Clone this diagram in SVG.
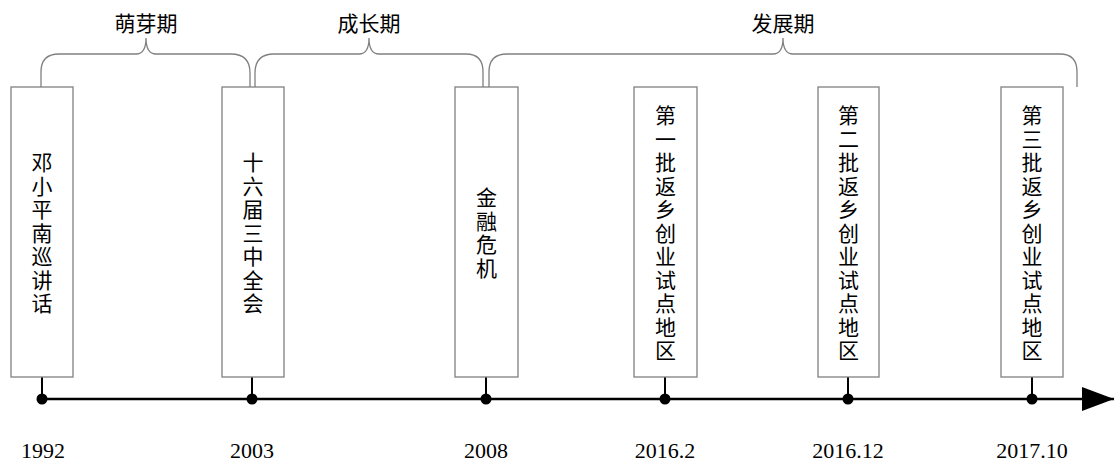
<svg xmlns="http://www.w3.org/2000/svg" width="1115" height="462" viewBox="0 0 1115 462">
<style>
.box{fill:#fff;stroke:#808080;stroke-width:1.3}
.brace{fill:none;stroke:#808080;stroke-width:1.3}
.vt{font-family:"Noto Sans CJK SC",sans-serif;font-size:21px;fill:#000;text-anchor:middle}
.per{font-family:"Noto Sans CJK SC",sans-serif;font-size:21px;fill:#000;text-anchor:middle}
.yr{font-family:"Liberation Serif",serif;font-size:22px;fill:#000;text-anchor:middle}
.axis{stroke:#000;stroke-width:2.5;fill:none}
.stem{stroke:#000;stroke-width:2}
.dot{fill:#000}
</style>
<defs>
<marker id="arr" markerUnits="userSpaceOnUse" markerWidth="34" markerHeight="26" refX="32" refY="12" orient="auto">
<path d="M0,0 L32,12 L0,24 Z" fill="#000"/>
</marker>
</defs>
<g id="periods">
<g id="p1"><path class="brace" d="M41,87 V72 Q41,54 59,54 H136 Q146,54 146,38 Q146,54 156,54 H231 Q250,54 250,73 V87"/><text class="per" x="146" y="31">萌芽期</text></g>
<g id="p2"><path class="brace" d="M255,87 V73 Q255,54 274,54 H359 Q369,54 369,38 Q369,54 379,54 H466 Q483,54 483,72 V87"/><text class="per" x="369" y="31">成长期</text></g>
<g id="p3"><path class="brace" d="M489,87 V72 Q489,54 507,54 H773 Q783,54 783,38 Q783,54 793,54 H1060 Q1077,54 1077,72 V87"/><text class="per" x="783" y="31">发展期</text></g>
</g>
<g id="connectors">
<line class="axis" x1="42" y1="399" x2="1114" y2="399" marker-end="url(#arr)"/>
<line class="stem" x1="42" y1="377" x2="42" y2="399"/>
<line class="stem" x1="252" y1="377" x2="252" y2="399"/>
<line class="stem" x1="486" y1="377" x2="486" y2="399"/>
<line class="stem" x1="665" y1="377" x2="665" y2="399"/>
<line class="stem" x1="848" y1="377" x2="848" y2="399"/>
<line class="stem" x1="1032" y1="377" x2="1032" y2="399"/>
<circle class="dot" cx="42" cy="399" r="5.5"/>
<circle class="dot" cx="252" cy="399" r="5.5"/>
<circle class="dot" cx="486" cy="399" r="5.5"/>
<circle class="dot" cx="665" cy="399" r="5.5"/>
<circle class="dot" cx="848" cy="399" r="5.5"/>
<circle class="dot" cx="1032" cy="399" r="5.5"/>
</g>
<g id="n1992">
<rect class="box" x="11" y="87" width="62" height="290"/>
<text class="vt" x="42"><tspan x="42" y="170">邓</tspan><tspan x="42" dy="23.5">小</tspan><tspan x="42" dy="23.5">平</tspan><tspan x="42" dy="23.5">南</tspan><tspan x="42" dy="23.5">巡</tspan><tspan x="42" dy="23.5">讲</tspan><tspan x="42" dy="23.5">话</tspan></text>
<text class="yr" x="43" y="458">1992</text>
</g>
<g id="n2003">
<rect class="box" x="222" y="87" width="62" height="290"/>
<text class="vt" x="253"><tspan x="253" y="170">十</tspan><tspan x="253" dy="23.5">六</tspan><tspan x="253" dy="23.5">届</tspan><tspan x="253" dy="23.5">三</tspan><tspan x="253" dy="23.5">中</tspan><tspan x="253" dy="23.5">全</tspan><tspan x="253" dy="23.5">会</tspan></text>
<text class="yr" x="252" y="458">2003</text>
</g>
<g id="n2008">
<rect class="box" x="455" y="87" width="63" height="290"/>
<text class="vt" x="486.5"><tspan x="486.5" y="205">金</tspan><tspan x="486.5" dy="23.5">融</tspan><tspan x="486.5" dy="23.5">危</tspan><tspan x="486.5" dy="23.5">机</tspan></text>
<text class="yr" x="486" y="458">2008</text>
</g>
<g id="n2016_2">
<rect class="box" x="634" y="87" width="63" height="290"/>
<text class="vt" x="665.5"><tspan x="665.5" y="123">第</tspan><tspan x="665.5" dy="23.5">一</tspan><tspan x="665.5" dy="23.5">批</tspan><tspan x="665.5" dy="23.5">返</tspan><tspan x="665.5" dy="23.5">乡</tspan><tspan x="665.5" dy="23.5">创</tspan><tspan x="665.5" dy="23.5">业</tspan><tspan x="665.5" dy="23.5">试</tspan><tspan x="665.5" dy="23.5">点</tspan><tspan x="665.5" dy="23.5">地</tspan><tspan x="665.5" dy="23.5">区</tspan></text>
<text class="yr" x="665" y="458">2016.2</text>
</g>
<g id="n2016_12">
<rect class="box" x="818" y="87" width="61" height="290"/>
<text class="vt" x="848.5"><tspan x="848.5" y="123">第</tspan><tspan x="848.5" dy="23.5">二</tspan><tspan x="848.5" dy="23.5">批</tspan><tspan x="848.5" dy="23.5">返</tspan><tspan x="848.5" dy="23.5">乡</tspan><tspan x="848.5" dy="23.5">创</tspan><tspan x="848.5" dy="23.5">业</tspan><tspan x="848.5" dy="23.5">试</tspan><tspan x="848.5" dy="23.5">点</tspan><tspan x="848.5" dy="23.5">地</tspan><tspan x="848.5" dy="23.5">区</tspan></text>
<text class="yr" x="848" y="458">2016.12</text>
</g>
<g id="n2017_10">
<rect class="box" x="1001" y="87" width="62" height="290"/>
<text class="vt" x="1032"><tspan x="1032" y="123">第</tspan><tspan x="1032" dy="23.5">三</tspan><tspan x="1032" dy="23.5">批</tspan><tspan x="1032" dy="23.5">返</tspan><tspan x="1032" dy="23.5">乡</tspan><tspan x="1032" dy="23.5">创</tspan><tspan x="1032" dy="23.5">业</tspan><tspan x="1032" dy="23.5">试</tspan><tspan x="1032" dy="23.5">点</tspan><tspan x="1032" dy="23.5">地</tspan><tspan x="1032" dy="23.5">区</tspan></text>
<text class="yr" x="1032" y="458">2017.10</text>
</g>
</svg>
